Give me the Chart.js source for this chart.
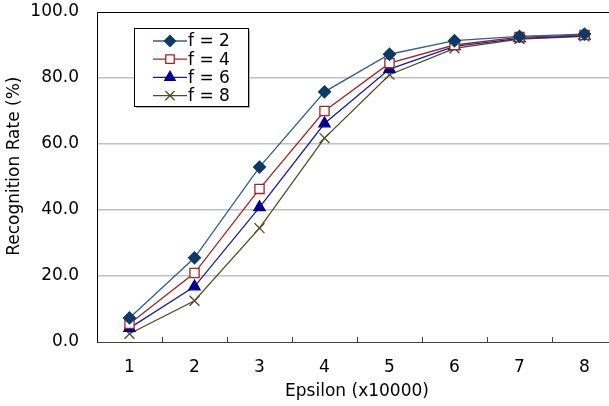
<!DOCTYPE html>
<html>
<head>
<meta charset="utf-8">
<script src="https://cdn.jsdelivr.net/npm/chart.js@4"></script>
<style>
  html, body { margin: 0; padding: 0; background: #fff; overflow: hidden; }
  #wrap { width: 617px; height: 406px; }
</style>
</head>
<body>
<div id="wrap"><canvas id="graphique" width="617" height="406"></canvas></div>
<script>
// valeurs
var epsilon = ['1', '2', '3', '4', '5', '6', '7', '8'];
var f2 = [7.3, 25.5, 53.0, 75.8, 87.2, 91.3, 92.6, 93.3];
var f4 = [5.5, 20.9, 46.4, 70.0, 84.5, 90.0, 92.4, 93.0];
var f6 = [4.2, 16.8, 40.8, 66.2, 82.7, 89.6, 92.0, 92.8];
var f8 = [2.5, 12.5, 34.5, 61.8, 81.0, 89.0, 91.8, 92.6];
var yTicks = [0, 20, 40, 60, 80, 100];

var police = 'DejaVu Sans, Verdana, sans-serif';

// légende dessinée dans la zone du graphique, comme dans Excel
var legendeInterne = {
  id: 'legendeInterne',
  afterDraw: function(chart) {
    var ctx = chart.ctx;
    var x0 = 134, y0 = 28, w = 114, h = 78;
    ctx.save();
    ctx.fillStyle = '#b0b0b0';
    ctx.fillRect(x0 + 2, y0 + 2, w, h);
    ctx.fillStyle = '#fff';
    ctx.fillRect(x0, y0, w, h);
    ctx.strokeStyle = '#000';
    ctx.lineWidth = 1;
    ctx.strokeRect(x0 + 0.5, y0 + 0.5, w, h);
    chart.data.datasets.forEach(function(ds, i) {
      var y = y0 + 13 + i * 18.2;
      ctx.strokeStyle = ds.borderColor;
      ctx.lineWidth = 1.3;
      ctx.beginPath();
      ctx.moveTo(153, y);
      ctx.lineTo(187, y);
      ctx.stroke();
      ctx.fillStyle = ds.pointBackgroundColor;
      ctx.strokeStyle = ds.pointBorderColor;
      ctx.lineWidth = ds.pointBorderWidth;
      Chart.helpers.drawPoint(ctx, {
        pointStyle: ds.pointStyle,
        radius: ds.pointRadius - 0.5,
        borderWidth: ds.pointBorderWidth
      }, 170, y);
      ctx.fillStyle = '#000';
      ctx.font = '17px ' + police;
      ctx.textBaseline = 'middle';
      ctx.textAlign = 'left';
      ctx.fillText(ds.label, 188, y + 1);
    });
    ctx.restore();
  }
};

// cadre et petites graduations vers l'intérieur
var cadre = {
  id: 'cadre',
  afterDatasetsDraw: function(chart) {
    var a = chart.chartArea, ctx = chart.ctx;
    ctx.save();
    ctx.strokeStyle = '#000';
    ctx.lineWidth = 1;
    ctx.beginPath();
    ctx.moveTo(a.left + 0.5, a.bottom);
    ctx.lineTo(a.left + 0.5, a.top + 0.5);
    ctx.lineTo(a.right, a.top + 0.5);
    ctx.stroke();
    ctx.strokeStyle = '#404040';
    ctx.beginPath();
    ctx.moveTo(a.left, a.bottom + 0.5);
    ctx.lineTo(a.right, a.bottom + 0.5);
    var pas = (a.right - a.left) / epsilon.length;
    for (var i = 1; i < epsilon.length; i++) {
      var x = Math.round(a.left + i * pas) + 0.5;
      ctx.moveTo(x, a.bottom);
      ctx.lineTo(x, a.bottom - 5);
    }
    ctx.stroke();
    ctx.restore();
  }
};

function serie(label, data, couleurLigne, couleurPoint, style, rayon, fond) {
  return {
    label: label,
    data: data,
    borderColor: couleurLigne,
    borderWidth: 1.3,
    pointStyle: style,
    pointRadius: rayon,
    pointHoverRadius: rayon,
    pointBackgroundColor: fond,
    pointBorderColor: couleurPoint,
    pointBorderWidth: 1.3,
    tension: 0,
    fill: false,
    clip: false
  };
}

var ctx = document.getElementById('graphique').getContext('2d');
var chart = new Chart(ctx, {
  type: 'line',
  data: {
    labels: epsilon,
    datasets: [
      serie('f = 2', f2, '#2f5f8f', '#0c3a66', 'rectRot', 6, '#0c3a66'),
      serie('f = 4', f4, '#a32424', '#a32424', 'rect', 6.5, '#ffffff'),
      serie('f = 6', f6, '#1a1aa8', '#000090', 'triangle', 6.5, '#000090'),
      serie('f = 8', f8, '#4d4d1f', '#4d4d1f', 'crossRot', 7, '#4d4d1f')
    ]
  },
  options: {
    responsive: false,
    animation: false,
    layout: { autoPadding: false, padding: { top: 12, right: 0, left: 0, bottom: 0 } },
    plugins: {
      legend: { display: false },
      tooltip: { enabled: false }
    },
    scales: {
      x: {
        offset: true,
        grid: { display: false, drawTicks: false },
        border: { display: false },
        ticks: { color: '#000', font: { family: police, size: 17 }, padding: 15 },
        title: { display: true, text: 'Epsilon (x10000)', color: '#000', font: { family: police, size: 17 }, padding: { top: 2 } },
        afterFit: function(s) {
          s.height = 64;
          s.paddingLeft = 0; s.paddingRight = 0; s.paddingTop = 0; s.paddingBottom = 0;
        }
      },
      y: {
        min: 0,
        max: 100,
        afterBuildTicks: function(s) { s.ticks = yTicks.map(function(v) { return { value: v }; }); },
        grid: {
          drawTicks: false,
          color: function(c) { return (c.tick.value === 0 || c.tick.value === 100) ? 'rgba(0,0,0,0)' : '#c0c0c0'; },
          lineWidth: 1.5
        },
        border: { display: false },
        ticks: {
          color: '#000',
          font: { family: police, size: 17 },
          padding: 18,
          callback: function(value) { return value.toFixed(1); }
        },
        title: { display: true, text: '    Recognition Rate (%)', color: '#000', font: { family: police, size: 17 }, padding: { bottom: 0 } },
        afterFit: function(s) {
          s.width = 97;
          s.paddingLeft = 0; s.paddingRight = 0; s.paddingTop = 0; s.paddingBottom = 0;
        }
      }
    }
  },
  plugins: [cadre, legendeInterne]
});
</script>
</body>
</html>
